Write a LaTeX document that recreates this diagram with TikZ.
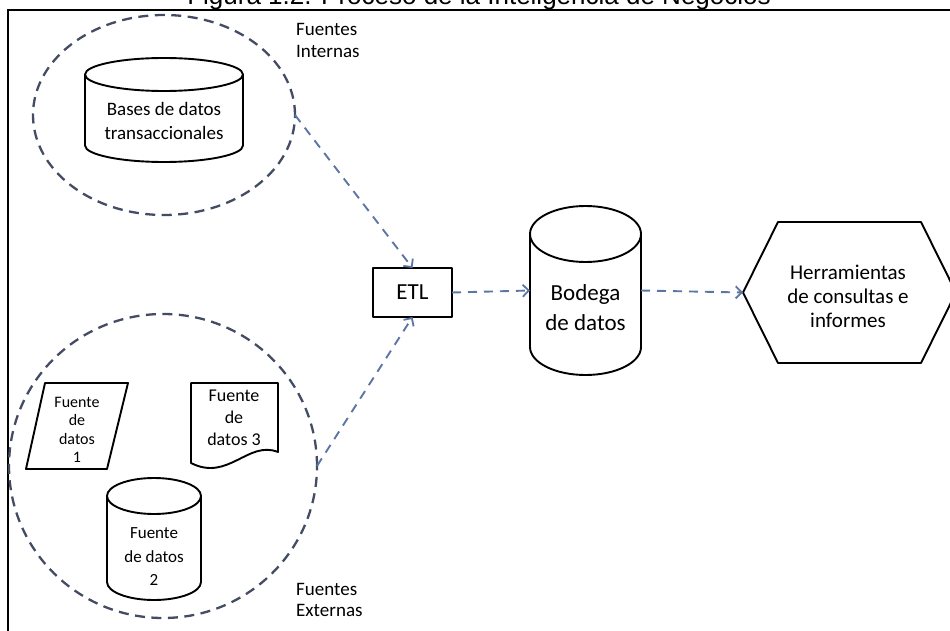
\documentclass[tikz,border=0pt]{standalone}
\usepackage{fontspec}
\setmainfont{Carlito}
\newfontfamily\titlefont{Liberation Sans}
\usetikzlibrary{arrows.meta,shapes.geometric}
\definecolor{ellcol}{RGB}{68,76,100}
\definecolor{arrcol}{RGB}{92,117,162}
\newcommand\mycyl[5]{%
  \draw[outline] ({(#1+#2)/2},{#3+#5}) ellipse [x radius={(#2-#1)/2}, y radius=#5];
  \draw[outline] (#1,{#3+#5}) -- (#1,{#4-#5}) .. controls (#1,{#4-0.4477*#5}) and ({(#1+#2)/2-0.5523*(#2-#1)/2},#4) .. ({(#1+#2)/2},#4) .. controls ({(#1+#2)/2+0.5523*(#2-#1)/2},#4) and (#2,{#4-0.4477*#5}) .. (#2,{#4-#5}) -- (#2,{#3+#5});
}
\begin{document}
\begin{tikzpicture}[x=1pt,y=-1pt,
  outline/.style={draw=black, line width=1.9pt, line join=round},
  group/.style={ellipse, draw=ellcol, line width=2.3pt, dash pattern=on 10pt off 6.5pt, inner sep=0pt, outer sep=0pt},
  flow/.style={draw=arrcol, line width=1.9pt, dash pattern=on 9pt off 7pt, -{Straight Barb[length=6pt,width=12pt,line width=1.8pt]}},
  txt/.style={align=center, inner sep=0pt},
  boxnode/.style={inner sep=0pt, outer sep=0pt}]
\useasboundingbox (0,0) rectangle (950,631);
% frame
\draw[line width=2pt] (8,660) -- (8,10) -- (980,10);
% title
\node[anchor=base, inner sep=0pt, font=\titlefont\fontsize{26}{30}\selectfont] (title) at (479,5) {Figura 1.2. Proceso de la Inteligencia de Negocios};
% groups
\node[group, minimum width=262pt, minimum height=200pt] (internas) at (164,115) {};
\node[group, minimum width=308pt, minimum height=304pt] (externas) at (163,466) {};
\node[txt, anchor=north west, font=\fontsize{19}{22}\selectfont, align=left] (labint) at (296,23) {Fuentes\\Internas};
\node[txt, anchor=north west, font=\fontsize{19}{21}\selectfont, align=left] (labext) at (296,583) {Fuentes\\Externas};
% Bases de datos transaccionales
\mycyl{85}{243}{58}{162}{16.5}
\node[txt, font=\fontsize{19}{24}\selectfont] (bases) at (164,121) {Bases de datos\\transaccionales};
% Fuente de datos 1 (parallelogram)
\draw[outline] (45,383) -- (128,383) -- (107,469) -- (26,469) -- cycle;
\node[txt, font=\fontsize{16}{18.5}\selectfont] (src1) at (77,430) {Fuente\\de\\datos\\1};
% Fuente de datos 3 (document)
\draw[outline] (191,383) -- (278,383) -- (278,452) .. controls (248,440) and (228,482) .. (191,463) -- cycle;
\node[txt, font=\fontsize{18}{22}\selectfont] (src3) at (234,418) {Fuente\\de\\datos 3};
% Fuente de datos 2 (cylinder)
\mycyl{107}{201}{478}{600}{18}
\node[txt, font=\fontsize{17}{23.5}\selectfont] (src2) at (154,557) {Fuente\\de datos\\2};
% ETL
\node[outline, boxnode, minimum width=79pt, minimum height=49pt, font=\fontsize{23}{26}\selectfont] (etl) at (412.5,292.5) {ETL};
% Bodega de datos
\node[boxnode, minimum width=111pt, minimum height=169pt] (bodega) at (585.5,290.5) {};
\mycyl{530}{641}{206}{375}{28}
\node[txt, font=\fontsize{23}{30}\selectfont] (bodegaT) at (585.5,308) {Bodega\\de datos};
% Herramientas (hexagon)
\node[boxnode, minimum width=213pt, minimum height=141pt] (tools) at (849.5,292.5) {};
\draw[outline] (tools.west) -- ([xshift=35pt]tools.north west) -- ([xshift=-35pt]tools.north east) -- (tools.east) -- ([xshift=-35pt]tools.south east) -- ([xshift=35pt]tools.south west) -- cycle;
\node[txt, font=\fontsize{21}{24}\selectfont] (toolsT) at (848,296) {Herramientas\\de consultas e\\informes};
% connectors
\draw[flow] (internas.east) -- (etl.north);
\draw[flow] (externas.east) -- (etl.south);
\draw[flow] (etl.east) -- (bodega.west);
\draw[flow] (bodega.east) -- (tools.west);
\end{tikzpicture}
\end{document}
